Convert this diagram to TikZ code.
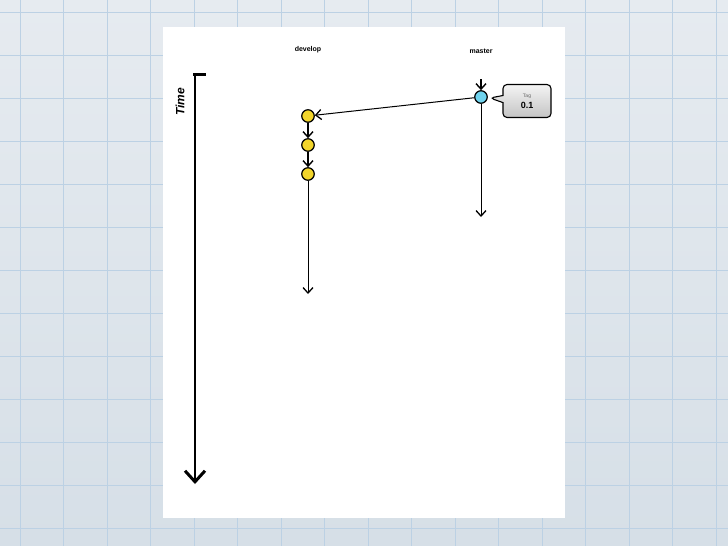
\documentclass[tikz,border=0pt]{standalone}
\usepackage{fontspec}
\setmainfont{Liberation Sans}
\usetikzlibrary{arrows.meta,shapes.callouts,calc}
\definecolor{bgtop}{HTML}{E6EBF0}
\definecolor{bgbot}{HTML}{D6DFE7}
\definecolor{gridc}{HTML}{BCD1E4}
\definecolor{devc}{HTML}{F2D52B}
\definecolor{masc}{HTML}{6FD3EE}
\definecolor{tagtop}{HTML}{F4F4F4}
\definecolor{tagbot}{HTML}{C4C4C4}
\tikzset{
  commit/.style={circle, draw=black, line width=1.2pt, minimum size=12.5pt, inner sep=0pt},
  devcommit/.style={commit, fill=devc},
  mascommit/.style={commit, fill=masc},
  branchlabel/.style={font=\bfseries\fontsize{7}{8}\selectfont},
  flow/.style={line width=1.3pt, -{Straight Barb[length=5.5pt,width=10pt,line width=1.4pt]}},
  thin flow/.style={line width=1pt, -{Straight Barb[length=5.5pt,width=10pt,line width=1.3pt]}},
}
\begin{document}
\begin{tikzpicture}[x=1pt,y=-1pt]
\useasboundingbox (0,0) rectangle (728,546);
% background paper with grid
\shade[top color=bgtop, bottom color=bgbot] (0,0) rectangle (728,546);
\foreach \gx in {20,63.5,107,150.5,194,237.5,281,324.5,368,411.5,455,498.5,542,585.5,629,672.5,716}
  \draw[gridc, line width=0.6pt] (\gx,0) -- (\gx,546);
\foreach \gy in {12,55,98,141,184,227,270,313,356,399,442,485,528}
  \draw[gridc, line width=0.6pt] (0,\gy) -- (728,\gy);
% white page
\fill[white] (163,27) rectangle (565,518);
% branch labels
\node[branchlabel] (ldev) at (308,50) {develop};
\node[branchlabel] (lmas) at (481,51) {master};
% time axis
\coordinate (ttop) at (195,74);
\coordinate (tbot) at (195,484);
\draw[line width=3pt] (193,74) -- (206,74);
\draw[line width=2pt, -{Straight Barb[length=11pt,width=20pt,line width=3pt]}] (ttop) -- (tbot);
\node[rotate=90, font=\bfseries\itshape\fontsize{12}{13}\selectfont] (time) at (180,102) {Time};
% master
\node[mascommit] (m1) at (481,97) {};
\coordinate (mtop) at (481,79);
\coordinate (mend) at (481,217);
\draw[flow] (mtop) -- (m1);
\draw[thin flow] (m1) -- (mend);
% tag callout
\node[rectangle callout, rounded corners=4pt, draw=black, line width=1.1pt,
      top color=tagtop, bottom color=tagbot, minimum width=48pt, minimum height=33pt,
      callout absolute pointer={(490,98)}, align=center, inner sep=1pt] (tag) at (527,101)
      {{\fontsize{5}{6}\selectfont\color{black!60}Tag}\\[-1pt]{\bfseries\fontsize{9}{10}\selectfont 0.1}};
% develop
\node[devcommit] (d1) at (308,116) {};
\node[devcommit] (d2) at (308,145) {};
\node[devcommit] (d3) at (308,174) {};
\coordinate (dend) at (308,294);
\draw[thin flow] (m1) -- (d1);
\draw[flow] (d1) -- (d2);
\draw[flow] (d2) -- (d3);
\draw[thin flow] (d3) -- (dend);
\end{tikzpicture}
\end{document}
